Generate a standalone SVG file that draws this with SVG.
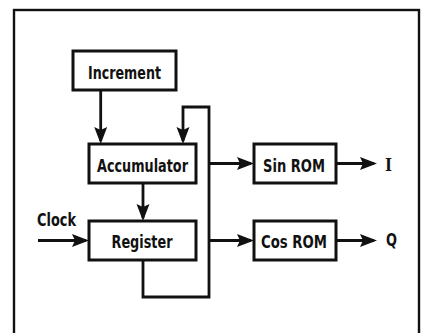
<svg xmlns="http://www.w3.org/2000/svg" width="424" height="333" viewBox="0 0 424 333">
<style>
.box{fill:#fff;stroke:#111;stroke-width:3}
.wire{fill:none;stroke:#111;stroke-width:2.8}
.lbl{font-family:"Liberation Sans Narrow","DejaVu Sans Condensed","Liberation Sans",sans-serif;font-weight:bold;font-size:18px;fill:#111;text-anchor:middle}
</style>
<defs>
<marker id="ah" markerUnits="userSpaceOnUse" markerWidth="18" markerHeight="14" refX="14" refY="6.5" orient="auto" overflow="visible">
<path d="M0,0 L17,6.5 L0,13 L3,6.5 z" fill="#111"/>
</marker>
</defs>
<rect x="14" y="10" width="405" height="340" fill="#fff" stroke="#111" stroke-width="2.4"/>
<g id="connectors">
<path class="wire" d="M100.7,90 V141" marker-end="url(#ah)"/>
<path class="wire" d="M143,260 V297 H209 V107 H183 V141" marker-end="url(#ah)"/>
<path class="wire" d="M143,183 V218" marker-end="url(#ah)"/>
<path class="wire" d="M209,163.5 H251" marker-end="url(#ah)"/>
<path class="wire" d="M209,240.5 H251" marker-end="url(#ah)"/>
<path class="wire" d="M336,163.5 H374" marker-end="url(#ah)"/>
<path class="wire" d="M336,240.5 H374" marker-end="url(#ah)"/>
<path class="wire" d="M38,240.5 H86" marker-end="url(#ah)"/>
</g>
<g id="increment"><rect class="box" x="73" y="51" width="103" height="39"/><text class="lbl" x="124.5" y="79" textLength="73" lengthAdjust="spacingAndGlyphs">Increment</text></g>
<g id="accumulator"><rect class="box" x="89" y="144" width="107" height="39"/><text class="lbl" x="142.5" y="172" textLength="91" lengthAdjust="spacingAndGlyphs">Accumulator</text></g>
<g id="register"><rect class="box" x="89" y="221" width="107" height="39"/><text class="lbl" x="142" y="248" textLength="61" lengthAdjust="spacingAndGlyphs">Register</text></g>
<g id="sinrom"><rect class="box" x="254" y="144" width="82" height="39"/><text class="lbl" x="294" y="172" textLength="62" lengthAdjust="spacingAndGlyphs">Sin ROM</text></g>
<g id="cosrom"><rect class="box" x="254" y="221" width="82" height="39"/><text class="lbl" x="294" y="248" textLength="66" lengthAdjust="spacingAndGlyphs">Cos ROM</text></g>
<g id="clock"><text class="lbl" x="56.5" y="225.5" textLength="39" lengthAdjust="spacingAndGlyphs">Clock</text></g>
<g id="out-i"><text x="388.5" y="171" style="font-family:'Liberation Serif',serif;font-weight:bold;font-size:18px;fill:#111;text-anchor:middle">I</text></g>
<g id="out-q"><text class="lbl" x="391.5" y="246" textLength="11" lengthAdjust="spacingAndGlyphs">Q</text></g>
</svg>
